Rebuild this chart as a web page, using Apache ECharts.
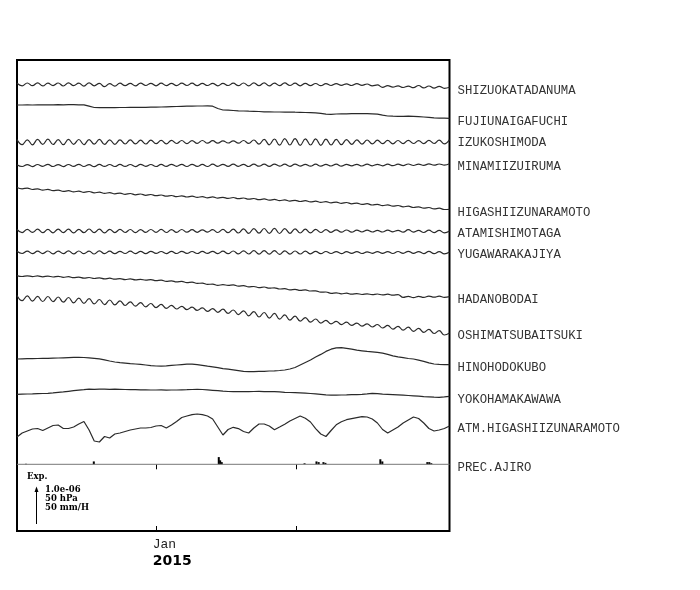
<!DOCTYPE html>
<html><head><meta charset="utf-8">
<script src="https://cdn.jsdelivr.net/npm/echarts@6/dist/echarts.min.js"></script>
<style>html,body{margin:0;padding:0;background:#fff}#c{width:700px;height:590px}</style>
</head><body><div id="c"></div>
<script>
// ---------------- DATA ----------------
// samples every half tidal period (~6.21 h), days relative to 2015-01-01
const stationNames = ['SHIZUOKATADANUMA','FUJIUNAIGAFUCHI','IZUKOSHIMODA','MINAMIIZUIRUMA',
  'HIGASHIIZUNARAMOTO','ATAMISHIMOTAGA','YUGAWARAKAJIYA','HADANOBODAI','OSHIMATSUBAITSUKI',
  'HINOHODOKUBO','YOKOHAMAKAWAWA','ATM.HIGASHIIZUNARAMOTO'];
const precName = 'PREC.AJIRO';
const tickLabel = 'Jan';
const yearLabel = '2015';

const shizuoka = [1.2,-1.3,1.5,-1.2,1.6,-1.4,1.3,-1.1,1.5,-1.5,
 1.6,-1.2,1.4,-1.6,1.7,-1.3,1.2,-2.2,0.9,-1.6,
 1.3,-1.2,1.1,-1.3,1.4,-1.0,1.2,-1.3,1.3,-1.1,
 1.2,-1.2,1.4,-1.0,1.3,-1.2,1.1,-1.0,1.2,-1.3,
 1.1,-1.0,1.3,-1.2,1.5,-1.3,1.6,-1.2,1.7,-1.4,
 1.4,-1.2,1.6,-1.0,1.3,-1.3,1.2,-1.1,1.0,-1.2,
 0.9,-1.0,0.8,-0.9,0.7,-1.0,0.8,-0.8,0.5,-1.3,
 -0.4,-2.8,-1.2,-2.6,-1.3,-3.0,-1.6,-3.2,-1.0,-3.4,
 -1.5,-3.6,-1.8,-3.8,-2.8];
const fuji = [0,0,0.1,0,0.2,0.1,0.2,0.2,0.3,0.2,
 0.3,0.3,0.2,0.1,-1.2,-2.5,-2.7,-2.6,-2.7,-2.6,
 -2.5,-2.5,-2.4,-2.4,-2.3,-2.3,-2.2,-2.1,-2.0,-1.8,
 -1.6,-1.5,-1.3,-1.2,-1.1,-1.0,-1.0,-0.9,-1.2,-3.5,
 -5.0,-5.2,-5.5,-5.8,-6.0,-6.2,-6.3,-6.5,-6.8,-6.9,
 -7.0,-7.0,-7.1,-7.0,-7.2,-7.3,-7.5,-7.6,-7.8,-8.3,
 -9.2,-9.3,-9.0,-8.9,-8.8,-8.7,-8.6,-8.7,-8.7,-8.9,
 -9.1,-10.2,-11.0,-11.2,-11.3,-11.3,-11.2,-11.3,-11.6,-12.0,
 -12.4,-12.8,-13.1,-13.2,-13.3];
const izuko = [2.4,-2.6,2.2,-2.8,2.6,-2.4,2.8,-2.5,2.3,-2.7,
 2.7,-2.3,2.5,-2.6,2.4,-2.2,2.6,-2.4,2.2,-2.3,
 2.1,-2.0,2.2,-1.9,1.8,-2.0,1.9,-1.7,1.6,-1.8,
 1.7,-1.5,1.5,-1.6,1.4,-1.3,1.5,-1.2,1.3,-1.2,
 1.2,-1.0,1.1,-1.2,1.5,-1.4,2.0,-2.2,2.6,-2.8,
 3.0,-3.2,3.4,-3.0,3.3,-3.4,3.2,-3.0,3.1,-3.3,
 2.9,-3.0,2.7,-2.6,2.4,-2.3,2.2,-2.1,2.0,-1.9,
 1.8,-1.7,1.6,-1.8,1.5,-1.6,1.7,-1.5,1.4,-1.6,
 1.6,-1.5,1.8,-1.9,2.3];
const minami = [0.8,-1.0,0.9,-1.1,1.0,-0.8,1.1,-1.0,0.9,-1.1,
 1.0,-0.9,1.2,-1.0,0.9,-1.2,1.1,-0.9,1.0,-1.0,
 1.1,-0.9,1.0,-1.1,1.2,-0.8,1.0,-1.0,1.1,-0.9,
 1.2,-0.8,1.1,-1.0,1.2,-0.9,1.1,-1.0,1.3,-0.8,
 1.2,-0.9,1.3,-0.8,1.2,-1.0,1.4,-0.7,1.3,-0.9,
 1.4,-0.6,1.3,-0.8,1.4,-0.6,1.2,-0.7,1.3,-0.6,
 1.2,-0.5,1.3,-0.6,1.1,-0.4,1.2,-0.5,1.3,-0.3,
 1.2,-0.3,1.4,-0.2,1.3,-0.1,1.5,0,1.4,0.1,
 1.6,0.3,1.5,0.4,1.7];
const higashi = [0.5,-0.8,-0.1,-1.5,-0.8,-2.1,-1.4,-2.7,-2.1,-3.4,
 -2.7,-3.9,-3.1,-4.3,-3.5,-4.8,-4.2,-5.4,-4.6,-5.8,
 -5.1,-6.3,-5.5,-6.8,-6.0,-7.3,-6.5,-7.7,-7.0,-8.2,
 -7.5,-8.7,-7.8,-9.0,-8.2,-9.4,-8.6,-9.8,-8.9,-10.1,
 -9.3,-10.4,-9.5,-10.7,-10.0,-11.2,-10.5,-11.7,-10.9,-12.2,
 -11.4,-12.6,-11.9,-13.1,-12.3,-13.5,-12.7,-13.9,-13.2,-14.4,
 -13.6,-14.8,-14.1,-15.3,-14.5,-15.8,-15.1,-16.4,-15.7,-17.0,
 -16.3,-17.6,-16.9,-18.2,-17.5,-18.8,-18.2,-19.5,-18.8,-20.2,
 -19.5,-20.9,-20.2,-21.5,-21.3];
const atami = [1.5,-1.6,1.7,-1.4,1.8,-1.7,1.6,-1.8,1.9,-1.6,
 1.8,-1.9,1.7,-1.7,2.0,-1.6,1.8,-1.9,1.7,-1.6,
 1.6,-1.5,1.5,-1.7,1.4,-1.4,1.5,-1.3,1.6,-1.5,
 1.4,-1.4,1.5,-1.2,1.3,-1.3,1.2,-1.2,1.4,-1.5,
 1.6,-1.7,1.9,-2.0,2.2,-2.3,2.4,-2.2,2.5,-2.4,
 2.6,-2.5,2.4,-2.3,2.2,-2.0,1.8,-1.9,1.6,-1.5,
 1.4,-1.3,1.2,-1.2,1.0,-1.1,0.8,-1.0,0.8,-1.0,
 0.6,-1.0,0.9,-0.8,0.7,-1.2,1.3,-1.1,0.6,-1.5,
 0.9,-1.6,0.6,-1.8,0];
const yugawara = [1.2,-1.0,1.4,-1.2,1.3,-1.1,1.5,-1.3,1.4,-1.2,
 1.6,-1.4,1.5,-1.2,1.4,-1.5,1.6,-1.1,1.3,-1.2,
 1.2,-1.0,1.3,-1.1,1.1,-1.2,1.2,-0.9,1.0,-1.1,
 1.1,-1.0,1.2,-0.9,1.0,-1.0,1.1,-0.9,1.2,-1.1,
 1.3,-1.2,1.5,-1.4,1.6,-1.5,1.8,-1.6,1.9,-1.7,
 1.8,-1.8,1.7,-1.6,1.5,-1.5,1.4,-1.3,1.2,-1.2,
 1.0,-1.0,0.9,-1.1,0.8,-0.9,0.9,-1.0,0.7,-0.8,
 0.8,-0.9,0.9,-1.0,1.0,-0.8,1.2,-0.9,0.9,-1.1,
 1.1,-1.2,0.8,-1.4,0.5];
const hadano = [0.4,-0.5,0.2,-0.6,0.1,-0.8,-0.1,-1.0,-0.3,-1.3,
 -0.7,-1.7,-1.1,-2.1,-1.5,-2.5,-1.9,-2.9,-2.2,-3.2,
 -2.6,-3.6,-2.9,-3.9,-3.3,-4.2,-3.6,-4.7,-4.2,-5.3,
 -4.8,-5.9,-5.4,-6.6,-6.2,-7.4,-7.1,-8.4,-8.1,-9.4,
 -8.6,-9.4,-8.9,-10.1,-9.7,-10.9,-10.5,-11.6,-11.0,-12.2,
 -11.8,-13.0,-12.6,-13.8,-13.3,-14.4,-13.9,-15.0,-14.8,-16.2,
 -16.0,-17.3,-16.8,-17.8,-17.2,-18.2,-17.6,-18.5,-17.8,-18.7,
 -18.0,-18.9,-18.2,-19.2,-18.6,-21.4,-20.4,-21.6,-20.3,-21.4,
 -20.1,-21.2,-20.2,-21.3,-20.7];
const oshima = [2.5,-2.7,2.1,-3.1,1.7,-3.5,1.5,-3.7,1.0,-4.2,
 0.5,-4.9,-0.2,-5.4,-0.6,-5.9,-1.5,-6.6,-2.0,-6.9,
 -2.8,-7.5,-3.8,-8.2,-4.6,-8.9,-5.5,-9.6,-6.4,-10.3,
 -7.4,-11.0,-8.3,-11.7,-9.1,-12.4,-9.9,-13.3,-10.6,-14.3,
 -11.2,-15.4,-12.0,-16.6,-12.8,-17.8,-13.6,-19.0,-14.5,-20.1,
 -15.4,-21.1,-16.8,-22.1,-18.2,-23.1,-19.6,-24.1,-21.0,-25.1,
 -22.4,-25.9,-23.3,-26.6,-24.2,-27.4,-25.1,-28.1,-25.8,-29.0,
 -26.5,-30.0,-27.4,-31.1,-28.3,-32.2,-29.2,-33.3,-30.3,-34.3,
 -31.4,-35.5,-32.7,-37.0,-35.0];
const hino = [0,0.2,0.3,0.4,0.5,0.6,0.7,0.9,1.0,1.2,
 1.4,1.6,1.7,1.5,1.2,0.7,0.1,-0.9,-2.0,-3.0,
 -3.6,-4.1,-4.6,-5.0,-5.4,-6.0,-6.6,-7.0,-7.1,-6.8,
 -6.4,-6.0,-5.6,-5.2,-5.1,-5.6,-6.3,-7.2,-7.8,-8.6,
 -9.6,-10.2,-10.8,-11.6,-12.4,-12.7,-12.6,-12.4,-12.3,-12.0,
 -11.8,-11.5,-11.0,-10.0,-8.5,-6.0,-3.5,-1.0,2.0,4.6,
 7.6,9.8,11.2,11.3,10.6,9.8,8.8,8.2,7.6,7.2,
 6.6,5.8,4.6,3.2,2.2,1.4,0.5,0,-1.2,-2.4,
 -3.8,-5.0,-5.4,-5.6,-5.7];
const yoko = [0,0.2,0.3,0.4,0.6,0.8,1.0,1.4,1.9,2.4,
 3.0,3.6,4.2,4.6,5.2,5.0,5.1,5.2,5.0,5.1,
 5.0,4.8,4.7,4.6,4.5,4.4,4.3,4.3,4.4,4.2,
 4.3,4.3,4.5,4.6,4.8,4.9,4.8,4.4,4.0,3.6,
 3.1,2.8,2.6,2.6,2.7,2.6,2.8,2.9,2.7,2.6,
 2.6,2.4,2.0,1.8,1.6,1.4,1.1,0.8,0.5,0.0,
 -0.5,-0.9,-0.8,-0.7,-0.6,-0.4,-0.3,-0.1,0.4,1.0,
 0.6,0.2,0.0,-0.3,-0.6,-0.9,-1.2,-1.5,-1.9,-2.3,
 -2.6,-2.9,-3.0,-2.6,-2.0];
const atm = [-7,-3,-1,1,1.5,-0.5,2,4.5,5,1.5,
 1.5,3,6,8.5,0,-11,-12,-6.5,-8,-4,
 -3,-1.5,0,1,2,2,2.5,4,4.5,2,
 5,8.5,12.5,14,15.3,16,15.3,14,11,3,
 -5,0.5,2.7,1.4,-1.5,-3,2,6,6,4,
 0.3,3,5.8,9,11.5,14,11.7,8,1.4,-4,
 -6.5,-0.5,5.2,8.3,10.3,11.4,12.4,13.4,13,11,
 7,0.5,-3,0,3,7,10,13,11.5,7,
 1.5,-1,0,1.5,4];
// precipitation, mm/h, at days from 2015-01-01
const precDays = [-6.57,-3.16,3.12,3.19,3.27,7.43,8.03,8.14,8.38,8.48,11.24,11.34,13.60,13.70,13.80];
const precMm   = [0.7,4,10,5.5,3,1.4,4,3,3,2,7,4,3,3,1.5];
const scaleTexts = ['Exp.','1.0e-06','50 hPa','50 mm/H'];

// ---------------- LAYOUT ----------------
const T0 = -7.02, DT = 0.25875, T1 = T0 + 84 * DT;
const GL = 17, GR = 250.5, GT = 60, GB = 59;
const bottomPx = 590 - GB, plotH = 590 - GT - GB;
const basePx = [84.5,105,142,165.5,188,231,252.5,276,298,359,394.3,430];
const smoothFlags = [true,false,true,true,true,true,true,true,true,false,false,false];
const precBasePx = 464.3, pxPerMm = 36 / 50;

const allData = [shizuoka,fuji,izuko,minami,higashi,atami,yugawara,hadano,oshima,hino,yoko,atm];
const labelStyle = {show:true, formatter:'{a}', distance:8, offset:[0,3], color:'#333',
  fontFamily:'Liberation Mono', fontSize:12.3};

const series = stationNames.map((name, k) => ({
  name, type:'line', xAxisIndex:0, yAxisIndex:0, symbol:'none', showSymbol:false,
  smooth: smoothFlags[k] ? 0.45 : false,
  lineStyle:{color:'#2a2a2a', width:1.2},
  endLabel: labelStyle,
  data: allData[k].map((v, i) => [T0 + i * DT, bottomPx - basePx[k] + v])
}));
series.push({
  name: precName, type:'line', xAxisIndex:0, yAxisIndex:1, symbol:'none',
  lineStyle:{color:'#777', width:1}, endLabel: labelStyle,
  data: [[T0, 0], [T1, 0]]
});
series.push({
  name: precName + ' bars', type:'bar', xAxisIndex:0, yAxisIndex:1, barWidth:2,
  itemStyle:{color:'#000'},
  data: precDays.map((d, i) => [d, precMm[i]])
});

const legendFont = 'bold 8.5px "DejaVu Serif"';
const chart = echarts.init(document.getElementById('c'), null, {renderer:'canvas'});
chart.setOption({
  animation:false,
  textStyle:{fontFamily:'Liberation Mono'},
  grid:{left:GL, right:GR, top:GT, bottom:GB, show:true, borderColor:'#000', borderWidth:2},
  xAxis:[{
    type:'value', min:T0, max:T1, position:'bottom',
    axisLine:{show:false}, splitLine:{show:false},
    axisTick:{show:true, inside:true, length:5, customValues:[0,7], lineStyle:{color:'#000', width:1}},
    axisLabel:{show:true, customValues:[-0.2], align:'left', margin:6,
      formatter:() => '{a|' + tickLabel + '}\n{b|' + yearLabel + '}',
      rich:{a:{fontFamily:'Liberation Mono', fontSize:13, color:'#222', lineHeight:16},
            b:{fontFamily:'DejaVu Sans', fontWeight:'bold', fontSize:14, color:'#000', lineHeight:17}}}
  },{
    type:'value', min:T0, max:T1, position:'top',
    axisLine:{show:false}, splitLine:{show:false}, axisLabel:{show:false},
    axisTick:{show:true, inside:true, length:5, customValues:[0,7], lineStyle:{color:'#000', width:1}}
  }],
  yAxis:[
    {type:'value', min:0, max:plotH, show:false},
    {type:'value', min:-(bottomPx - precBasePx) / pxPerMm, max:(precBasePx - GT) / pxPerMm, show:false}
  ],
  graphic:[
    {type:'text', x:27, y:477, style:{text:scaleTexts[0], font:legendFont, fill:'#000', verticalAlign:'middle'}},
    {type:'text', x:45, y:489.5, style:{text:scaleTexts[1], font:legendFont, fill:'#000', verticalAlign:'middle'}},
    {type:'text', x:45, y:498.5, style:{text:scaleTexts[2], font:legendFont, fill:'#000', verticalAlign:'middle'}},
    {type:'text', x:45, y:507.5, style:{text:scaleTexts[3], font:legendFont, fill:'#000', verticalAlign:'middle'}},
    {type:'line', shape:{x1:36.5, y1:524, x2:36.5, y2:490}, style:{stroke:'#000', lineWidth:1}},
    {type:'polygon', shape:{points:[[36.5,486.5],[34.5,492],[38.5,492]]}, style:{fill:'#000'}}
  ],
  series
});
</script></body></html>
